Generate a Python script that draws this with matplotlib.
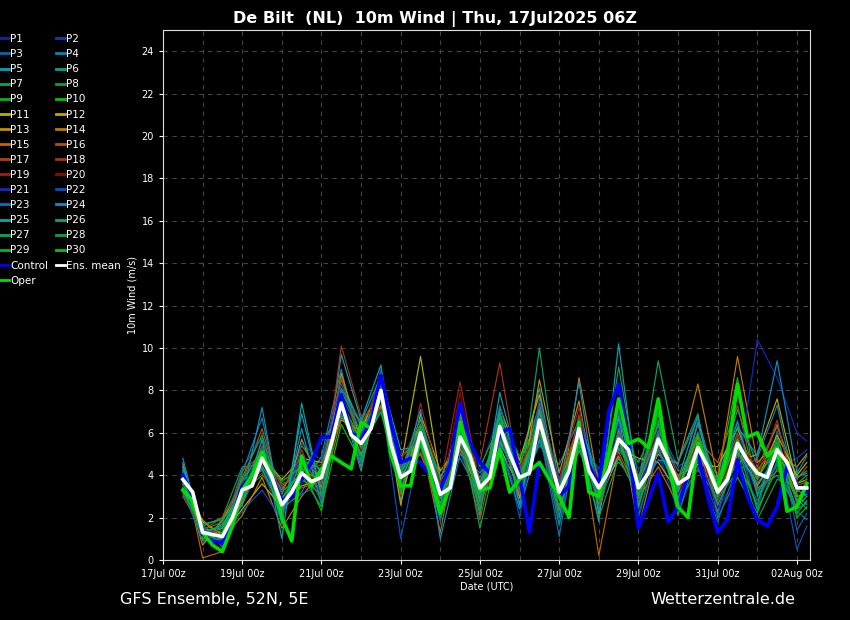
import numpy as np
import matplotlib
matplotlib.use('Agg')
import matplotlib.pyplot as plt
from matplotlib.lines import Line2D

# Forecast time axis, in days after 17Jul 00z
main_days = np.arange(0.5, 16.26, 0.25)          # 6-hourly
member_days = np.append(np.arange(0.5, 16.01, 0.5), 16.25)  # 12-hourly members

tick_days = [0, 2, 4, 6, 8, 10, 12, 14, 16]
tick_labels = ['17Jul 00z', '19Jul 00z', '21Jul 00z', '23Jul 00z', '25Jul 00z',
               '27Jul 00z', '29Jul 00z', '31Jul 00z', '02Aug 00z']

# Ensemble mean, control and operational run (m/s)
ens_mean = [3.8, 3.2, 1.3, 1.2, 1.1, 2.0, 3.3, 3.5,
            4.8, 3.9, 2.6, 3.2, 4.1, 3.7, 3.9, 5.5,
            7.4, 5.9, 5.5, 6.2, 8.0, 5.5, 3.9, 4.2,
            6.0, 4.6, 3.1, 3.4, 5.8, 4.9, 3.4, 3.9,
            6.3, 5.0, 3.9, 4.1, 6.6, 4.9, 3.2, 4.2,
            6.2, 4.2, 3.4, 4.2, 5.7, 5.2, 3.4, 4.1,
            5.7, 4.7, 3.6, 3.9, 5.3, 4.4, 3.2, 3.8,
            5.5, 4.7, 4.1, 3.9, 5.2, 4.6, 3.4, 3.4]

control = [4.0, 3.0, 1.2, 0.9, 0.8, 2.0, 3.5, 4.0,
           4.9, 4.0, 2.8, 3.0, 3.8, 4.6, 5.8, 5.8,
           7.8, 6.0, 5.7, 6.5, 8.7, 6.5, 4.6, 4.8,
           4.6, 4.0, 3.3, 4.5, 7.4, 5.5, 4.6, 4.1,
           6.0, 6.2, 4.0, 1.3, 4.6, 3.8, 3.0, 3.5,
           6.5, 4.5, 3.5, 7.0, 8.3, 5.5, 1.5, 2.8,
           4.1, 1.8, 2.5, 4.0, 5.0, 3.0, 1.3, 1.9,
           4.7, 3.0, 1.9, 1.6, 2.5, 4.4, 3.5, 3.2]

oper = [3.3, 2.8, 1.3, 0.7, 0.4, 1.6, 3.3, 4.0,
        5.1, 4.0, 2.0, 0.9, 4.9, 3.5, 4.3, 4.9,
        4.6, 4.3, 6.5, 6.2, 8.0, 5.0, 3.5, 3.5,
        5.9, 4.0, 2.2, 3.5, 6.5, 5.0, 3.3, 3.4,
        5.2, 3.2, 3.8, 4.2, 4.6, 3.8, 3.0, 2.0,
        6.5, 3.2, 3.0, 5.0, 7.6, 5.5, 5.7, 5.3,
        7.6, 4.6, 2.5, 2.0, 5.5, 4.5, 3.4, 5.0,
        8.3, 5.8, 6.0, 4.9, 5.3, 2.3, 2.5, 3.6]

# Perturbed members P1..P30 (12-hourly)
p01 = [4.0,1.2,0.9,3.1,5.6,3.0,3.6,4.4,8.0,6.2,7.4, 4.6,5.3,2.2,6.7,4.2,7.0,3.1,5.8,2.4,6.9,4.0, 6.4,2.7,4.8,3.0,6.1,2.5,4.9,3.6,5.0,2.8,3.1]
p02 = [3.5,1.5,1.3,3.8,4.2,2.0,5.0,3.5,7.1,4.8,8.4, 3.2,6.8,3.5,5.1,2.6,6.0,4.8,7.2,3.9,5.3,2.1, 6.9,4.3,5.2,2.2,4.6,4.1,6.6,3.2,4.4,4.8,5.2]
p03 = [4.3,1.0,1.6,2.6,4.6,3.4,4.4,2.8,7.8,5.8,8.8, 4.1,5.6,1.8,6.2,3.8,5.5,2.7,6.1,1.6,5.8,2.9, 7.4,2.4,6.3,4.4,5.0,3.6,5.9,2.3,6.1,1.4,2.2]
p04 = [3.1,1.7,0.6,4.1,6.7,2.4,3.2,4.9,9.0,5.1,7.2, 3.7,6.4,4.0,4.8,3.0,6.8,3.5,5.4,4.5,6.6,3.6, 5.2,3.9,7.0,2.7,4.3,2.9,4.2,4.8,7.3,3.1,2.6]
p05 = [4.6,1.1,1.4,3.3,5.1,1.7,6.9,3.1,9.7,6.6,9.2, 2.8,6.2,2.6,6.5,2.1,7.9,4.3,8.1,2.9,6.0,1.8, 10.2,3.0,5.7,3.8,6.8,2.2,5.3,3.4,4.0,2.5,3.0]
p06 = [3.6,0.9,1.0,2.9,4.4,2.9,4.6,3.6,6.9,4.9,7.6, 4.8,5.8,3.3,6.1,3.6,5.7,3.7,7.4,3.5,6.4,3.0, 5.0,3.3,6.0,2.8,5.6,3.7,7.1,4.4,6.3,3.9,4.2]
p07 = [3.9,1.4,1.8,3.6,5.3,3.6,3.9,4.8,7.5,5.3,7.0, 3.4,5.4,2.0,5.6,2.8,6.6,3.0,10.0,3.3,5.5,3.8, 4.6,3.6,9.4,4.7,6.9,2.0,3.9,2.2,4.7,2.9,2.4]
p08 = [3.3,1.6,2.0,4.4,4.5,2.2,4.3,3.3,7.0,5.7,8.1, 4.2,6.6,3.7,5.3,2.4,5.8,4.1,6.3,1.7,6.7,2.6, 5.9,4.6,6.6,3.3,4.8,2.8,5.0,1.9,3.8,3.5,3.7]
p09 = [4.4,1.3,0.8,3.2,4.0,3.1,5.4,4.1,8.5,6.3,7.9, 3.0,5.9,2.9,7.0,4.4,6.4,3.2,5.6,3.0,5.9,3.3, 6.6,2.1,5.4,3.5,5.9,3.9,8.6,3.0,4.5,2.2,2.8]
p10 = [3.7,1.1,1.5,3.9,5.9,2.7,4.0,2.5,6.4,4.6,8.6, 3.6,6.3,2.3,5.9,3.1,6.9,4.5,7.0,2.6,6.8,2.4, 5.5,3.7,6.9,2.4,5.1,3.3,5.6,4.2,5.6,2.0,2.5]
p11 = [4.2,1.8,1.2,2.4,3.6,2.5,3.5,3.8,7.3,5.0,7.7, 4.4,9.6,3.8,6.4,3.3,5.3,3.4,6.9,3.6,5.6,2.8, 4.9,3.1,5.0,4.0,4.5,4.4,6.2,3.8,5.9,4.0,4.6]
p12 = [3.4,1.2,1.7,2.7,4.9,3.8,4.8,4.6,6.6,6.1,8.3, 2.6,6.9,4.2,5.5,2.9,7.2,4.7,7.8,3.1,6.1,3.1, 5.3,4.8,4.6,3.2,5.8,3.0,4.6,5.0,7.6,3.6,3.8]
p13 = [3.9,0.7,1.9,3.5,4.3,2.3,5.7,3.4,8.8,5.6,7.3, 4.0,5.0,2.7,6.9,3.7,6.2,2.9,8.5,4.1,7.5,2.2, 6.1,2.6,5.6,3.7,4.9,3.4,5.2,3.5,4.9,4.4,5.0]
p14 = [3.2,1.9,1.0,2.1,3.9,1.5,3.0,4.2,7.7,4.4,8.0, 3.3,6.6,3.0,5.2,3.9,5.6,3.6,6.4,2.3,8.6,3.5, 6.8,1.5,5.3,4.5,8.3,3.8,9.6,4.6,5.5,2.7,3.4]
p15 = [4.5,0.1,0.4,2.8,4.7,3.3,4.7,3.0,6.7,5.9,7.8, 4.9,5.7,1.3,6.3,2.7,6.7,3.9,5.9,3.4,6.3,0.2, 5.1,2.9,4.4,2.6,5.4,2.3,5.0,4.0,6.4,3.2,3.6]
p16 = [3.0,1.4,2.0,3.7,6.2,2.8,3.4,3.7,7.9,6.4,8.1, 3.8,5.5,3.4,5.7,1.9,6.1,3.1,7.3,2.8,5.1,3.9, 5.8,3.5,6.4,3.9,5.7,4.6,7.3,3.3,4.2,3.8,4.4]
p17 = [3.8,1.0,0.9,4.2,5.0,3.5,4.2,4.5,8.6,5.2,8.5, 3.5,5.1,2.5,6.0,3.2,6.5,4.2,6.7,3.7,6.5,3.2, 5.6,3.8,5.9,2.9,6.4,3.1,5.5,4.3,5.3,3.0,3.2]
p18 = [3.6,1.5,1.1,3.0,5.4,2.1,5.2,2.9,10.1,6.8,7.1, 4.3,6.1,3.1,6.6,4.6,9.3,3.8,6.0,2.1,6.8,3.0, 6.0,4.0,5.5,3.4,4.2,3.5,6.0,3.9,6.6,2.6,3.9]
p19 = [4.0,1.3,1.4,3.4,4.1,2.9,3.7,4.0,7.2,5.4,8.9, 3.0,7.4,3.6,8.4,3.5,6.3,4.4,6.2,3.8,7.2,2.7, 5.4,3.2,5.1,3.6,5.5,2.7,5.8,3.7,5.7,3.4,3.5]
p20 = [3.5,1.1,1.2,3.6,4.6,3.0,4.5,3.2,7.6,5.1,7.5, 4.7,6.5,2.8,7.9,3.0,6.6,3.3,6.8,2.7,6.0,3.7, 5.0,3.0,6.2,3.1,5.2,3.2,5.4,4.5,5.1,3.7,3.3]
p21 = [3.7,1.2,0.7,3.3,4.4,2.6,4.9,3.9,7.0,5.5,8.2, 3.6,5.8,3.2,6.0,3.4,5.9,3.5,6.5,1.9,6.4,2.5, 5.4,3.4,5.8,2.5,5.0,2.4,4.0,10.4,8.6,6.0,5.6]
p22 = [4.2,1.6,1.0,2.3,3.3,1.9,5.5,4.7,8.3,5.9,7.8, 1.0,5.5,2.1,5.4,3.8,6.2,2.0,7.6,3.6,5.7,4.3, 6.5,2.0,5.3,3.0,4.7,2.1,5.7,3.1,5.3,0.5,1.6]
p23 = [3.3,0.9,1.3,4.3,5.8,2.5,3.1,3.6,7.7,4.5,9.0, 4.4,6.0,2.4,6.3,2.5,7.3,3.7,6.1,1.1,6.6,3.4, 7.0,2.7,6.1,4.2,4.4,1.8,4.5,2.8,4.6,2.3,1.9]
p24 = [4.8,1.2,1.7,3.0,7.2,2.0,6.2,2.6,8.1,6.5,8.7, 3.9,7.1,1.0,5.0,4.1,5.4,2.4,5.7,3.2,8.4,2.3, 6.2,3.4,4.7,4.6,6.7,3.3,6.3,4.9,9.4,4.1,4.9]
p25 = [4.4,1.0,1.2,2.6,5.7,1.0,7.4,3.0,7.4,4.2,8.6, 5.2,5.4,2.9,6.1,2.9,7.0,2.6,7.1,3.0,5.2,3.1, 6.7,3.6,5.9,3.2,6.5,3.0,5.1,3.6,4.8,3.9,4.1]
p26 = [3.3,1.4,1.5,3.4,4.4,3.2,4.1,5.6,6.8,5.0,7.6, 4.0,6.4,3.9,5.8,3.3,6.7,3.9,6.5,2.0,6.5,3.9, 5.3,3.9,6.4,2.9,4.9,3.8,6.5,3.1,5.0,2.4,2.7]
p27 = [3.6,1.7,1.9,3.1,4.3,2.4,4.7,4.3,7.3,5.3,7.0, 3.3,5.8,3.0,6.2,1.5,5.5,4.0,6.3,2.4,5.4,2.0, 4.8,3.0,5.2,3.3,5.9,2.6,4.7,2.6,5.8,2.8,3.3]
p28 = [4.1,1.1,1.0,3.8,5.1,2.7,3.8,3.1,8.0,6.0,7.9, 4.2,6.7,3.4,5.5,3.6,6.0,3.3,6.9,2.9,6.3,2.9, 9.1,3.8,6.5,2.1,5.3,3.4,5.6,3.8,5.5,3.3,3.0]
p29 = [3.4,1.3,1.6,2.9,4.9,3.7,4.4,2.3,7.8,4.7,8.3, 3.1,6.2,2.6,6.8,2.3,6.8,4.9,6.0,3.4,5.7,2.6, 5.7,2.5,5.9,3.7,6.0,3.0,5.3,2.4,4.3,3.6,4.0]
p30 = [3.9,1.0,1.3,3.5,4.8,2.9,4.2,3.8,7.5,5.6,7.7, 3.7,6.0,3.3,5.9,3.1,6.5,3.6,6.6,3.3,6.1,3.5, 5.8,3.1,5.6,3.4,5.4,3.5,5.7,3.9,5.2,3.0,3.1]

members = [p01, p02, p03, p04, p05, p06, p07, p08, p09, p10,
           p11, p12, p13, p14, p15, p16, p17, p18, p19, p20,
           p21, p22, p23, p24, p25, p26, p27, p28, p29, p30]

member_colors = ['#0a2a9c', '#0a40b4', '#0a62b0', '#0a84b8', '#0aa0b4',
                 '#0aa088', '#0aa060', '#0aa040', '#0ab020', '#0ac000',
                 '#b4b400', '#c0a400', '#c09000', '#c07a00', '#c06400',
                 '#b45000', '#b04010', '#a83414', '#a02018', '#8a0a0a',
                 '#1428c8', '#0a50c0', '#0a70b4', '#0a90c0', '#0aa4a4',
                 '#0aa080', '#0aa464', '#0aa050', '#0ab028', '#0ac010']

fig = plt.figure(figsize=(8.5, 6.2), dpi=100, facecolor='black')
ax = fig.add_axes([163 / 850, 1 - 560 / 620, (810 - 163) / 850, (560 - 30) / 620])
ax.set_facecolor('black')

handles = []
for i, vals in enumerate(members):
    ax.plot(member_days, vals, color=member_colors[i], lw=0.85)
    handles.append(Line2D([], [], color=member_colors[i], lw=2, label='P%d' % (i + 1)))

ax.plot(main_days, control, color='#0000ff', lw=2.6)
ax.plot(main_days, oper, color='#00dd00', lw=2.6)
ax.plot(main_days, ens_mean, color='white', lw=2.6)

h_ctrl = Line2D([], [], color='#0000ff', lw=2, label='Control')
h_mean = Line2D([], [], color='white', lw=2, label='Ens. mean')
h_oper = Line2D([], [], color='#00dd00', lw=2, label='Oper')

# legend is filled column by column, so order it to read row by row
col1 = handles[0::2] + [h_ctrl, h_oper]
col2 = handles[1::2] + [h_mean]
leg = fig.legend(handles=col1 + col2, ncol=2, loc='upper left',
                 bbox_to_anchor=(0.0, 1 - 34 / 620), frameon=False,
                 fontsize=7.5, handlelength=0.85, handletextpad=0.1,
                 columnspacing=0.8, labelspacing=0.49, borderpad=0,
                 borderaxespad=0)
for t in leg.get_texts():
    t.set_color('white')

ax.set_xlim(0, 16.33)
ax.set_ylim(0, 25)
ax.set_xticks(tick_days)
ax.set_xticklabels(tick_labels)
ax.set_xticks(np.arange(0, 17), minor=True)
ax.set_yticks(np.arange(0, 25, 2))
ax.tick_params(axis='both', colors='white', labelsize=7, length=3)
ax.tick_params(axis='x', which='minor', length=0)
ax.grid(True, which='both', color='#444444', linestyle='--', linewidth=0.8, dashes=(4, 4))
ax.set_axisbelow(True)
for s in ax.spines.values():
    s.set_color('#dddddd')

ax.set_ylabel('10m Wind (m/s)', color='white', fontsize=7, labelpad=3)
ax.set_xlabel('Date (UTC)', color='white', fontsize=7, labelpad=2)

fig.text(0.512, 0.983, 'De Bilt  (NL)  10m Wind | Thu, 17Jul2025 06Z', color='white',
         fontsize=11.5, fontweight='bold', ha='center', va='top')
fig.text(120 / 850, 1 - 599 / 620, 'GFS Ensemble, 52N, 5E', color='white',
         fontsize=11.5, ha='left', va='center')
fig.text(650 / 850, 1 - 599 / 620, 'Wetterzentrale.de', color='white',
         fontsize=11.5, ha='left', va='center')

fig.savefig('out.png', dpi=100, facecolor='black')
